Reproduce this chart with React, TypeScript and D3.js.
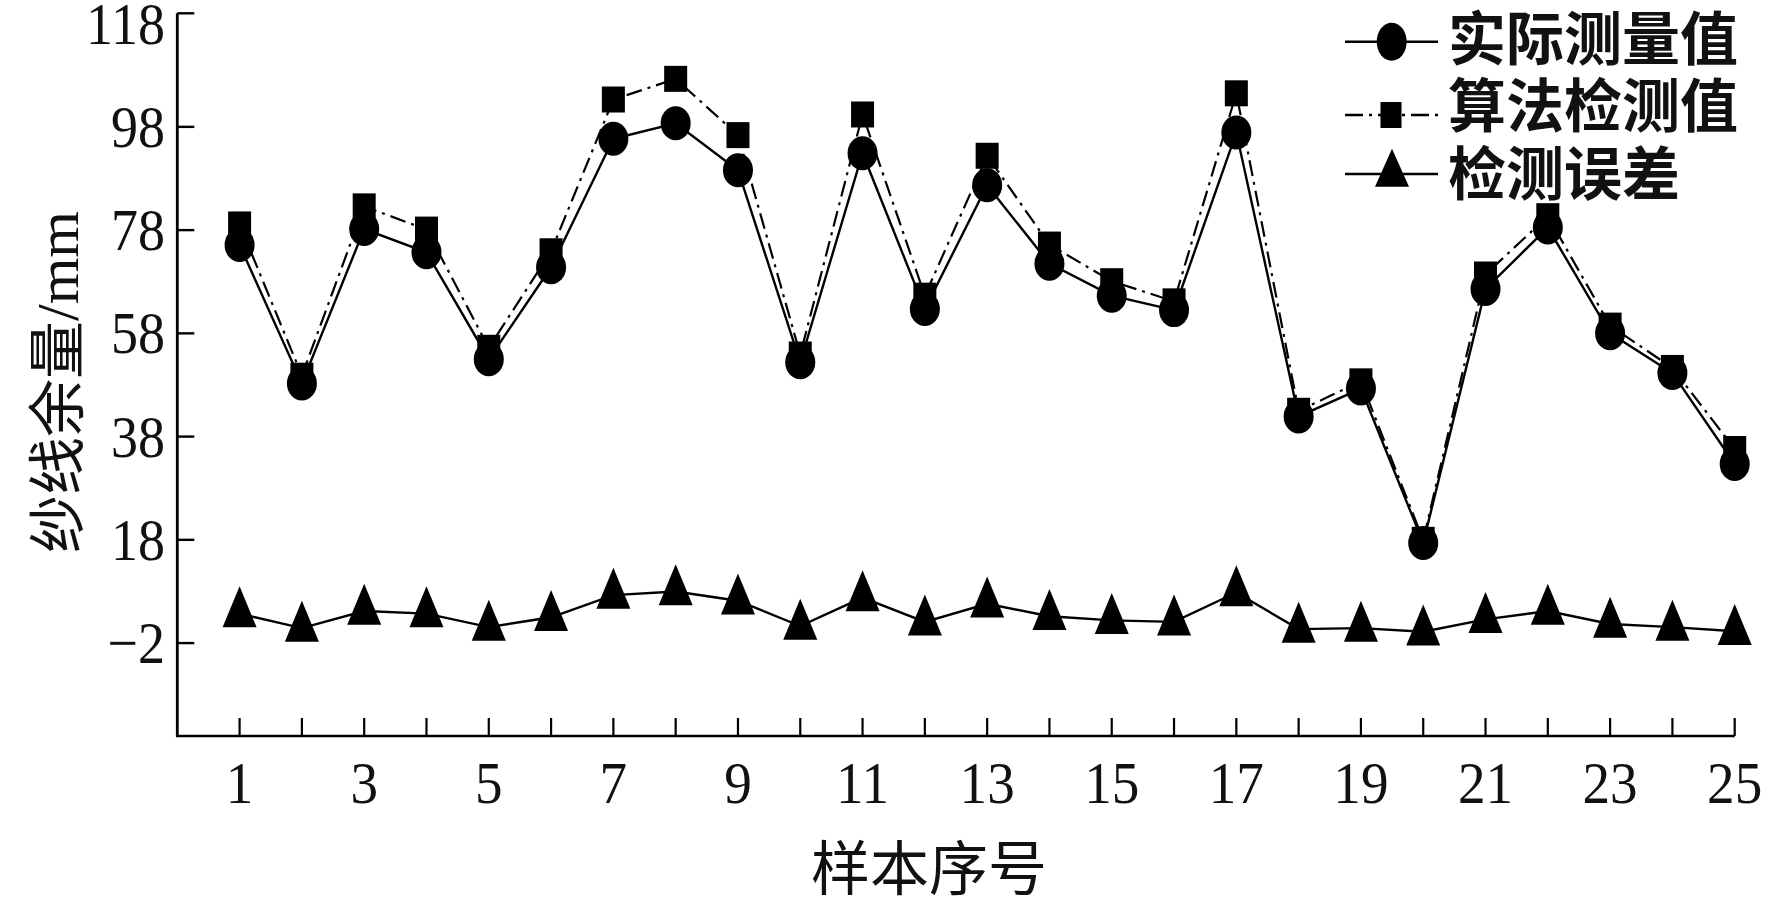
import React from 'react';
import * as d3 from 'd3';

// ---------- data ----------
const sampleIds = [1, 2, 3, 4, 5, 6, 7, 8, 9, 10, 11, 12, 13, 14, 15, 16, 17, 18, 19, 20, 21, 22, 23, 24, 25];
const actualValues = [75.1, 48.3, 78.2, 73.7, 53.0, 70.8, 95.7, 98.7, 89.6, 52.4, 92.9, 62.7, 86.7, 71.5, 65.3, 62.5, 96.9, 41.9, 47.3, 17.4, 66.6, 78.5, 58.0, 50.3, 32.7];
const algoValues = [79.1, 49.8, 82.6, 78.1, 55.2, 73.9, 103.3, 107.3, 96.4, 53.9, 100.4, 65.3, 92.4, 75.2, 68.1, 64.2, 104.5, 43.0, 48.7, 18.0, 69.4, 80.7, 59.5, 51.3, 35.6];
const errorValues = [3.7, 0.9, 4.2, 3.7, 1.1, 3.0, 7.3, 8.0, 6.2, 1.3, 6.8, 2.1, 5.6, 3.2, 2.4, 2.1, 7.8, 0.7, 0.9, 0.2, 2.6, 4.2, 1.7, 1.1, 0.3];
const yTickLabels = [-2, 18, 38, 58, 78, 98, 118];
const yTickMarks = [-2, 18, 38, 58, 78, 98, 120];
const xTickLabels = [1, 3, 5, 7, 9, 11, 13, 15, 17, 19, 21, 23, 25];
const seriesNames = ['实际测量值', '算法检测值', '检测误差'];
const xTitle = '样本序号';
const yTitleCJK = '纱线余量';
const yTitleUnit = '/mm';

const W = 1772;
const H = 909;
const left = 177.3;
const right = 1734.7;
const top = 13.3;
const bottom = 736;

const x = d3.scaleLinear().domain([0, 25]).range([left, right]);
const y = d3.scaleLinear().domain([-20, 120]).range([bottom, top]);

const lineGen = d3
  .line<number>()
  .x((_, i) => x(sampleIds[i]))
  .y((d) => y(d));

const CIRC_RX = 15;
const CIRC_RY = 17;
const SQ_W = 23;
const SQ_H = 26;
const TRI_W = 34;
const TRI_H = 41;

const triPath = (cx: number, cy: number, w: number, h: number) =>
  `M${cx},${cy - (2 * h) / 3} L${cx + w / 2},${cy + h / 3} L${cx - w / 2},${cy + h / 3} Z`;

const serif = '"Liberation Serif", "Times New Roman", serif';
const cjk = '"Noto Sans CJK SC", "Noto Sans", sans-serif';

export default function App() {
  return (
    <svg
      width={W}
      height={H}
      viewBox={`0 0 ${W} ${H}`}
      style={{ position: 'absolute', left: 0, top: 0, display: 'block', background: '#fff' }}
    >
      <rect x={0} y={0} width={W} height={H} fill="#fff" />

      {/* axes */}
      <line x1={left} y1={top} x2={left} y2={bottom} stroke="#000" strokeWidth={2.8} />
      <line x1={left - 1.4} y1={bottom} x2={right} y2={bottom} stroke="#000" strokeWidth={2.6} />
      {yTickMarks.map((v) => (
        <line key={'yt' + v} x1={left} x2={left + 17} y1={y(v)} y2={y(v)} stroke="#000" strokeWidth={2.4} />
      ))}
      {sampleIds.map((s) => (
        <line key={'xt' + s} x1={x(s)} x2={x(s)} y1={bottom} y2={bottom - 18} stroke="#000" strokeWidth={2.2} />
      ))}
      {yTickLabels.map((v) => (
        <g key={'yl' + v} transform={`translate(165,${y(v) + 20}) scale(0.9,1)`}>
          <text x={0} y={0} textAnchor="end" fontFamily={serif} fontSize={60} fill="#111">
            {v < 0 ? '\u2212' + Math.abs(v) : String(v)}
          </text>
        </g>
      ))}
      {xTickLabels.map((v) => (
        <g key={'xl' + v} transform={`translate(${x(v)},${803}) scale(0.92,1)`}>
          <text x={0} y={0} textAnchor="middle" fontFamily={serif} fontSize={60} fill="#111">
            {String(v)}
          </text>
        </g>
      ))}

      {/* axis titles */}
      <text x={929} y={890} textAnchor="middle" fontFamily={cjk} fontSize={59} fill="#111">
        {xTitle}
      </text>
      <text
        transform={`translate(78,382) rotate(-90)`}
        textAnchor="middle"
        fontFamily={cjk}
        fontSize={58}
        fill="#111"
      >
        {yTitleCJK}
        <tspan fontFamily={serif} fontSize={60}>
          {yTitleUnit}
        </tspan>
      </text>

      {/* series lines */}
      <path d={lineGen(algoValues) || ''} fill="none" stroke="#000" strokeWidth={2.2} strokeDasharray="16 6 3 6" />
      <path d={lineGen(actualValues) || ''} fill="none" stroke="#000" strokeWidth={2.4} />
      <path d={lineGen(errorValues) || ''} fill="none" stroke="#000" strokeWidth={2.4} />

      {/* markers */}
      {algoValues.map((v, i) => (
        <rect
          key={'sq' + i}
          x={x(sampleIds[i]) - SQ_W / 2}
          y={y(v) - SQ_H / 2}
          width={SQ_W}
          height={SQ_H}
          fill="#000"
        />
      ))}
      {actualValues.map((v, i) => (
        <ellipse key={'c' + i} cx={x(sampleIds[i])} cy={y(v)} rx={CIRC_RX} ry={CIRC_RY} fill="#000" />
      ))}
      {errorValues.map((v, i) => (
        <path key={'t' + i} d={triPath(x(sampleIds[i]), y(v), TRI_W, TRI_H)} fill="#000" />
      ))}

      {/* legend */}
      <g>
        <line x1={1345} x2={1438} y1={41.7} y2={41.7} stroke="#000" strokeWidth={2.6} />
        <ellipse cx={1391.7} cy={41.7} rx={15} ry={19} fill="#000" />
        <line x1={1345} x2={1438} y1={115} y2={115} stroke="#000" strokeWidth={2.4} strokeDasharray="18 6 3 6" />
        <rect x={1391 - 10.5} y={115 - 13} width={21} height={26} fill="#000" />
        <line x1={1345} x2={1438} y1={174} y2={174} stroke="#000" strokeWidth={2.6} />
        <path d={triPath(1392, 174, 34, 38)} fill="#000" />
        {seriesNames.map((n, i) => (
          <text key={n} x={1448} y={[59.5, 127, 195][i]} fontFamily={cjk} fontSize={58} fontWeight={700} fill="#111">
            {n}
          </text>
        ))}
      </g>
    </svg>
  );
}
